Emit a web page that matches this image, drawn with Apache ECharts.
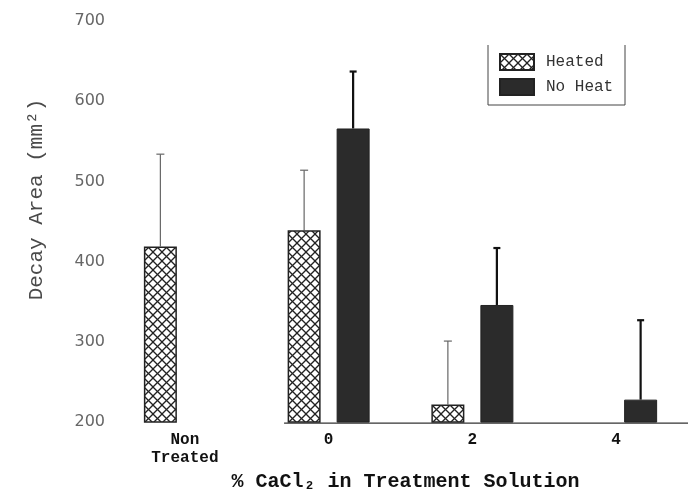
<!DOCTYPE html>
<html>
<head>
<meta charset="utf-8">
<script src="https://cdn.jsdelivr.net/npm/echarts@6/dist/echarts.min.js"></script>
<style>html,body{margin:0;padding:0;background:#fff}#c{width:688px;height:497px}</style>
</head>
<body>
<div id="c"></div>
<script>
// ---- data ----
var categories = ['Non\nTreated', '0', '2', '4'];
var heated = [419, 439, 222, null];
var heatedErr = [115, 75, 79, null];
var noHeat = [null, 566, 346, 228];
var noHeatErr = [null, 71, 71, 99];
var yTicks = [200, 300, 400, 500, 600, 700];

// ---- styles ----
var BAR_W = 33, BAR_GAP = 16;
var OFFSET = (BAR_W + BAR_GAP) / 2;
var GAP_PCT = (BAR_GAP / BAR_W * 100) + '%';

function makeHatch() {
  var s = 9;
  var cv = document.createElement('canvas');
  cv.width = s; cv.height = s;
  var ctx = cv.getContext('2d');
  ctx.fillStyle = '#fff';
  ctx.fillRect(0, 0, s, s);
  ctx.strokeStyle = '#222';
  ctx.lineWidth = 1.3;
  for (var o = -s; o <= s; o += s) {
    ctx.beginPath(); ctx.moveTo(o, 0); ctx.lineTo(o + s, s); ctx.stroke();
    ctx.beginPath(); ctx.moveTo(o + s, 0); ctx.lineTo(o, s); ctx.stroke();
  }
  return cv;
}
var hatch = { image: makeHatch(), repeat: 'repeat' };

function errData(vals, errs) {
  var out = [];
  for (var i = 0; i < vals.length; i++) {
    if (vals[i] != null && errs[i] != null) out.push([i, vals[i], vals[i] + errs[i]]);
  }
  return out;
}

function errRenderer(dir, color, width, cap) {
  return function (params, api) {
    var lo = api.coord([api.value(0), api.value(1)]);
    var hi = api.coord([api.value(0), api.value(2)]);
    var x = lo[0] + dir * OFFSET;
    return {
      type: 'group',
      children: [
        { type: 'line', shape: { x1: x, y1: lo[1], x2: x, y2: hi[1] }, style: { stroke: color, lineWidth: width } },
        { type: 'line', shape: { x1: x - cap / 2, y1: hi[1], x2: x + cap / 2, y2: hi[1] }, style: { stroke: color, lineWidth: width } }
      ]
    };
  };
}

var chart = echarts.init(document.getElementById('c'), null, { renderer: 'canvas' });
var option = {
  backgroundColor: '#fff',
  animation: false,
  grid: { left: 113, width: 581, top: 21, height: 404.5, containLabel: false },
  legend: {
    orient: 'vertical',
    left: 488, top: 45,
    padding: [8, 10, 12, 11],
    itemWidth: 34, itemHeight: 16, itemGap: 7,
    icon: 'rect',
    data: ['Heated', 'No Heat'],
    textStyle: { fontFamily: 'Liberation Mono', fontSize: 16, color: '#333', padding: [0, 0, 0, 7] }
  },
  xAxis: {
    type: 'category',
    data: categories,
    axisLine: { show: false },
    axisTick: { show: false },
    axisLabel: {
      margin: 9, interval: 0,
      fontFamily: 'Liberation Mono', fontWeight: 'bold', fontSize: 16, color: '#111', lineHeight: 18
    },
    name: '% CaCl\u2082 in Treatment Solution',
    nameLocation: 'middle',
    nameGap: 45,
    nameTextStyle: { fontFamily: 'Liberation Mono', fontWeight: 'bold', fontSize: 20, color: '#111', padding: [0, 0, 0, 10] }
  },
  yAxis: {
    type: 'value',
    min: yTicks[0], max: yTicks[yTicks.length - 1], interval: 100,
    axisLine: { show: false },
    axisTick: { show: false },
    splitLine: { show: false },
    axisLabel: { margin: 8, fontFamily: 'DejaVu Sans', fontSize: 16, color: '#666' },
    name: 'Decay Area (mm\u00b2)',
    nameLocation: 'middle',
    nameGap: 66,
    nameRotate: 90,
    nameTextStyle: { fontFamily: 'Liberation Mono', fontSize: 21, color: '#4a4a4a', padding: [0, 0, 0, 44] }
  },
  series: [
    {
      name: 'Heated', type: 'bar', data: heated,
      barWidth: BAR_W, barGap: GAP_PCT,
      itemStyle: { color: hatch, borderColor: '#222', borderWidth: 1.5 }
    },
    {
      name: 'No Heat', type: 'bar', data: noHeat,
      barWidth: BAR_W, barGap: GAP_PCT,
      itemStyle: { color: '#2b2b2b', borderColor: '#222', borderWidth: 1 }
    },
    {
      type: 'custom', data: errData(heated, heatedErr),
      renderItem: errRenderer(-1, '#666', 1.2, 8), z: 1, silent: true
    },
    {
      type: 'custom', data: errData(noHeat, noHeatErr),
      renderItem: errRenderer(1, '#111', 2.2, 7), z: 1, silent: true
    }
  ]
};
chart.setOption(option);

// x-axis baseline from the "0" group to the right edge, and legend frame (left, bottom, right sides)
var base = chart.convertToPixel({ gridIndex: 0 }, [1, yTicks[0]]);
var catW = chart.convertToPixel({ gridIndex: 0 }, [2, yTicks[0]])[0] - base[0];
chart.setOption({
  graphic: [
    { type: 'line', shape: { x1: base[0] - catW * 0.31, y1: base[1] + 1, x2: 688, y2: base[1] + 1 }, style: { stroke: '#333', lineWidth: 1.2 }, z: 0 },
    { type: 'polyline', shape: { points: [[488, 45], [488, 105], [625, 105], [625, 45]] }, style: { stroke: '#444', lineWidth: 1, fill: null }, z: 10 }
  ]
});
</script>
</body>
</html>
